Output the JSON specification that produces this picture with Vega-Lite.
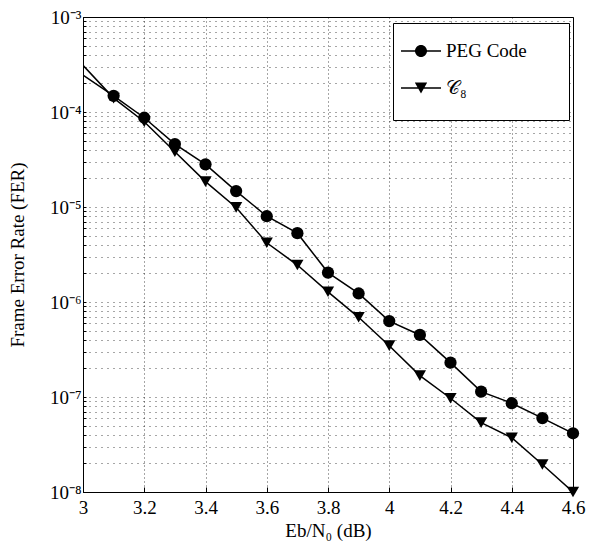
{
  "$schema": "https://vega.github.io/schema/vega-lite/v6.json",
  "width": 490,
  "height": 475,
  "autosize": {"type": "none"},
  "padding": {"left": 83, "top": 17, "right": 32, "bottom": 57},
  "background": "white",
  "config": {
    "font": "Liberation Serif",
    "view": {"stroke": "black", "strokeWidth": 1},
    "axis": {
      "domainColor": "black",
      "tickColor": "black",
      "labelColor": "black",
      "titleColor": "black",
      "labelFont": "Liberation Serif",
      "titleFont": "Liberation Serif",
      "labelFontSize": 19,
      "titleFontSize": 19,
      "titleFontWeight": "normal",
      "gridColor": "black",
      "gridOpacity": 0.7,
      "labelFlush": false,
      "labelOverlap": false
    }
  },
  "data": {
    "values": [
      {"x": 3.0, "fer": 2.45e-4, "series": "PEG Code"},
      {"x": 3.1, "fer": 1.48e-4, "series": "PEG Code"},
      {"x": 3.2, "fer": 8.7e-5, "series": "PEG Code"},
      {"x": 3.3, "fer": 4.6e-5, "series": "PEG Code"},
      {"x": 3.4, "fer": 2.81e-5, "series": "PEG Code"},
      {"x": 3.5, "fer": 1.47e-5, "series": "PEG Code"},
      {"x": 3.6, "fer": 8.0e-6, "series": "PEG Code"},
      {"x": 3.7, "fer": 5.3e-6, "series": "PEG Code"},
      {"x": 3.8, "fer": 2.04e-6, "series": "PEG Code"},
      {"x": 3.9, "fer": 1.23e-6, "series": "PEG Code"},
      {"x": 4.0, "fer": 6.3e-7, "series": "PEG Code"},
      {"x": 4.1, "fer": 4.5e-7, "series": "PEG Code"},
      {"x": 4.2, "fer": 2.3e-7, "series": "PEG Code"},
      {"x": 4.3, "fer": 1.14e-7, "series": "PEG Code"},
      {"x": 4.4, "fer": 8.6e-8, "series": "PEG Code"},
      {"x": 4.5, "fer": 6.0e-8, "series": "PEG Code"},
      {"x": 4.6, "fer": 4.15e-8, "series": "PEG Code"},
      {"x": 3.0, "fer": 3.1e-4, "series": "𝒞₈"},
      {"x": 3.1, "fer": 1.40e-4, "series": "𝒞₈"},
      {"x": 3.2, "fer": 7.9e-5, "series": "𝒞₈"},
      {"x": 3.3, "fer": 3.82e-5, "series": "𝒞₈"},
      {"x": 3.4, "fer": 1.85e-5, "series": "𝒞₈"},
      {"x": 3.5, "fer": 9.9e-6, "series": "𝒞₈"},
      {"x": 3.6, "fer": 4.2e-6, "series": "𝒞₈"},
      {"x": 3.7, "fer": 2.45e-6, "series": "𝒞₈"},
      {"x": 3.8, "fer": 1.28e-6, "series": "𝒞₈"},
      {"x": 3.9, "fer": 6.9e-7, "series": "𝒞₈"},
      {"x": 4.0, "fer": 3.47e-7, "series": "𝒞₈"},
      {"x": 4.1, "fer": 1.68e-7, "series": "𝒞₈"},
      {"x": 4.2, "fer": 9.7e-8, "series": "𝒞₈"},
      {"x": 4.3, "fer": 5.37e-8, "series": "𝒞₈"},
      {"x": 4.4, "fer": 3.73e-8, "series": "𝒞₈"},
      {"x": 4.5, "fer": 1.95e-8, "series": "𝒞₈"},
      {"x": 4.6, "fer": 1.0e-8, "series": "𝒞₈"}
    ]
  },
  "encoding": {
    "x": {
      "field": "x",
      "type": "quantitative",
      "scale": {"domain": [3, 4.6], "nice": false, "zero": false},
      "axis": {
        "values": [3, 3.2, 3.4, 3.6, 3.8, 4, 4.2, 4.4, 4.6],
        "format": ".1~f",
        "title": "Eb/N₀ (dB)",
        "grid": true,
        "gridDash": [1, 3],
        "tickSize": -5,
        "labelPadding": 11,
        "titlePadding": 4
      }
    },
    "y": {
      "field": "fer",
      "type": "quantitative",
      "scale": {"type": "log", "domain": [1e-8, 1e-3], "nice": false},
      "axis": {
        "values": [1e-8, 2e-8, 3e-8, 4e-8, 5e-8, 6e-8, 7e-8, 8e-8, 9e-8,
                   1e-7, 2e-7, 3e-7, 4e-7, 5e-7, 6e-7, 7e-7, 8e-7, 9e-7,
                   1e-6, 2e-6, 3e-6, 4e-6, 5e-6, 6e-6, 7e-6, 8e-6, 9e-6,
                   1e-5, 2e-5, 3e-5, 4e-5, 5e-5, 6e-5, 7e-5, 8e-5, 9e-5,
                   1e-4, 2e-4, 3e-4, 4e-4, 5e-4, 6e-4, 7e-4, 8e-4, 9e-4, 1e-3],
        "labelExpr": "abs(log(datum.value)/LN10-round(log(datum.value)/LN10))>0.001 ? '' : round(log(datum.value)/LN10)==-3 ? '10⁻³' : round(log(datum.value)/LN10)==-4 ? '10⁻⁴' : round(log(datum.value)/LN10)==-5 ? '10⁻⁵' : round(log(datum.value)/LN10)==-6 ? '10⁻⁶' : round(log(datum.value)/LN10)==-7 ? '10⁻⁷' : '10⁻⁸'",
        "title": "Frame Error Rate (FER)",
        "grid": true,
        "gridDash": [1, 5],
        "tickSize": -3,
        "labelPadding": 5,
        "titlePadding": 22
      }
    }
  },
  "resolve": {"scale": {"shape": "independent"}, "legend": {"shape": "independent"}},
  "layer": [
    {
      "mark": {"type": "line", "color": "black", "strokeWidth": 1.5, "clip": true},
      "encoding": {"detail": {"field": "series"}}
    },
    {
      "transform": [{"filter": "datum.x > 3.01"}],
      "mark": {"type": "point", "filled": true, "color": "black", "opacity": 1, "size": 150},
      "encoding": {
        "shape": {
          "field": "series",
          "type": "nominal",
          "scale": {"domain": ["PEG Code", "𝒞₈"], "range": ["circle", "triangle-down"]},
          "legend": null
        }
      }
    },
    {
      "transform": [{"filter": "datum.x > 100"}],
      "mark": {"type": "point", "filled": true, "fill": "black", "opacity": 1},
      "encoding": {
        "shape": {
          "field": "series",
          "type": "nominal",
          "scale": {
            "domain": ["PEG Code", "𝒞₈"],
            "range": [
              "M-1,-0.04L1,-0.04L1,0.04L-1,0.04ZM-0.3,0A0.3,0.3,0,1,1,0.3,0A0.3,0.3,0,1,1,-0.3,0Z",
              "M-1,-0.04L1,-0.04L1,0.04L-1,0.04ZM-0.31,-0.27L0.31,-0.27L0,0.27Z"
            ]
          },
          "legend": {
            "title": "\u00a0",
            "titleOrient": "right",
            "titlePadding": 34,
            "titleFontSize": 94,
            "orient": "none",
            "legendX": 310,
            "legendY": 6,
            "padding": 8,
            "strokeColor": "black",
            "fillColor": "white",
            "symbolSize": 1600,
            "symbolFillColor": "black",
            "symbolStrokeColor": "black",
            "symbolStrokeWidth": 0,
            "symbolOpacity": 1,
            "labelFont": "Liberation Serif",
            "labelFontSize": 19,
            "labelColor": "black",
            "labelOffset": 5,
            "rowPadding": 7
          }
        }
      }
    }
  ]
}
